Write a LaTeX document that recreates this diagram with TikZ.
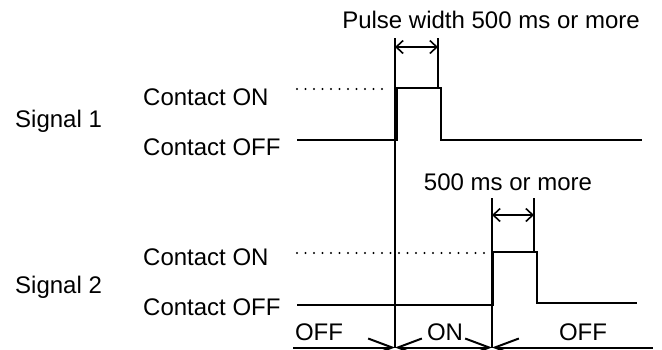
\documentclass[tikz,border=0pt]{standalone}
\usepackage{fontspec}
\setmainfont{Liberation Sans}
\usetikzlibrary{arrows.meta}
\begin{document}
\begin{tikzpicture}[x=1pt, y=-1pt,
    level text/.style={inner sep=0pt, anchor=base west, font=\fontsize{24}{28}\selectfont},
    mid text/.style={level text, anchor=base},
    wave/.style={line width=2.2pt, line join=miter},
    guide/.style={line width=1.6pt},
    on level/.style={line width=2.2pt, line cap=round, dash pattern=on 0pt off 8.5pt},
    dim/.style={line width=1.6pt, {Straight Barb[length=7pt,width=13pt]}-{Straight Barb[length=7pt,width=13pt]}},
    span/.style={line width=2pt},
    tip/.tip={Straight Barb[length=24pt,width=18pt,line width=2pt]}
  ]
  \useasboundingbox (0,0) rectangle (662,349);

  % Signal 1
  \node[level text] (sig1) at (15,127) {Signal 1};
  \node[level text] (s1on) at (143,105) {Contact ON};
  \node[level text] (s1off) at (143,155) {Contact OFF};
  \coordinate (d1a) at (297,89);
  \coordinate (d1b) at (388,89);
  \draw[on level] (d1a) -- (d1b);
  \coordinate (w1a) at (297,140);
  \coordinate (w1b) at (397,140);
  \coordinate (w1c) at (397,88);
  \coordinate (w1d) at (441,88);
  \coordinate (w1e) at (441,140);
  \coordinate (w1f) at (642,140);
  \draw[wave] (w1a) -- (w1b) -- (w1c) -- (w1d) -- (w1e) -- (w1f);

  % Pulse width mark
  \node[mid text] (pw1) at (491,28) {Pulse width 500 ms or more};
  \coordinate (g1t) at (395,38);
  \coordinate (g1b) at (395,348);
  \coordinate (g2t) at (438,38);
  \coordinate (g2b) at (438,88);
  \draw[guide] (g1t) -- (g1b);
  \draw[guide] (g2t) -- (g2b);
  \coordinate (a1l) at (395,47);
  \coordinate (a1r) at (438,47);
  \draw[dim] (a1l) -- (a1r);

  % Signal 2
  \node[level text] (sig2) at (15,293) {Signal 2};
  \node[level text] (s2on) at (143,265) {Contact ON};
  \node[level text] (s2off) at (143,315) {Contact OFF};
  \coordinate (d2a) at (297,253);
  \coordinate (d2b) at (485,253);
  \draw[on level] (d2a) -- (d2b);
  \coordinate (w2a) at (297,305);
  \coordinate (w2b) at (493,305);
  \coordinate (w2c) at (493,252);
  \coordinate (w2d) at (537,252);
  \coordinate (w2e) at (537,303);
  \coordinate (w2f) at (637,303);
  \draw[wave] (w2a) -- (w2b) -- (w2c) -- (w2d) -- (w2e) -- (w2f);

  % Interval mark
  \node[mid text] (pw2) at (508,190) {500 ms or more};
  \coordinate (g3t) at (492,198);
  \coordinate (g3b) at (492,348);
  \coordinate (g4t) at (534,198);
  \coordinate (g4b) at (534,252);
  \draw[guide] (g3t) -- (g3b);
  \draw[guide] (g4t) -- (g4b);
  \coordinate (a2l) at (492,215);
  \coordinate (a2r) at (534,215);
  \draw[dim] (a2l) -- (a2r);

  % Output states
  \node[mid text] (st1) at (319,340) {OFF};
  \node[mid text] (st2) at (445,340) {ON};
  \node[mid text] (st3) at (583,340) {OFF};
  \coordinate (b0) at (293,347.5);
  \coordinate (b1) at (395,347.5);
  \coordinate (b2) at (492,347.5);
  \coordinate (b3) at (653,347.5);
  \draw[span, -tip] (b0) -- (b1);
  \draw[span, tip-tip] (b1) -- (b2);
  \draw[span, tip-] (b2) -- (b3);

\end{tikzpicture}
\end{document}
